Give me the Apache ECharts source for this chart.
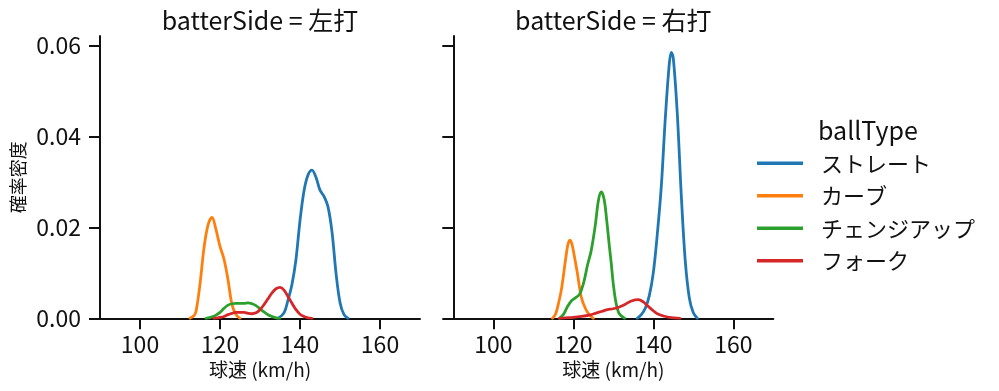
<!DOCTYPE html>
<html>
<head>
<meta charset="utf-8">
<script src="https://cdn.jsdelivr.net/npm/echarts@6/dist/echarts.min.js"></script>
<style>html,body{margin:0;padding:0;background:#fff;}#c{width:999px;height:391px;}</style>
</head>
<body>
<div id="c"></div>
<script>
// ---- data ----
const panels = ['batterSide = 左打', 'batterSide = 右打'];
const ballTypes = ['ストレート', 'カーブ', 'チェンジアップ', 'フォーク'];
const colors = ['#1f77b4', '#ff7f0e', '#2ca02c', '#d62728'];
const xTicks = [100, 120, 140, 160];
const yTicks = [0, 0.02, 0.04, 0.06];

// left panel (左打) KDE curves: [speed, density]
const L_straight = [[134.5,0],[136,0.0012],[137,0.0040],[138,0.0075],[139,0.0130],[140,0.0215],[141,0.0280],[142,0.0315],[143,0.0326],[144,0.0310],[145,0.0282],[146,0.0268],[147,0.0245],[148,0.0190],[149,0.0100],[150,0.0035],[151,0.0008],[152,0]];
const L_curve = [[112.5,0],[113.5,0.0006],[114,0.0015],[115,0.0075],[116,0.0155],[117,0.0205],[118,0.0222],[119,0.0195],[120,0.0158],[121,0.0130],[122,0.0085],[123,0.0030],[124,0.0008],[125,0]];
const L_change = [[116.5,0],[118,0.0003],[119,0.0007],[120,0.0013],[121,0.0022],[122,0.0029],[123,0.0032],[124,0.0033],[125,0.0033],[126,0.0033],[127,0.0034],[128,0.0032],[129,0.0028],[130,0.0021],[131,0.0014],[132,0.0008],[133,0.0004],[134,0.0001],[135,0]];
const L_fork = [[118.5,0],[120,0.0002],[121,0.0004],[122,0.0008],[123,0.0011],[124,0.0013],[125,0.0013],[126,0.0013],[127,0.0011],[128,0.0010],[129,0.0012],[130,0.0019],[131,0.0030],[132,0.0043],[133,0.0056],[134,0.0065],[135,0.0068],[136,0.0062],[137,0.0048],[138,0.0033],[139,0.0019],[140,0.0009],[141,0.0004],[142,0.0001],[143,0]];

// right panel (右打)
const R_straight = [[136,0],[137,0.0008],[138,0.0022],[139,0.0050],[140,0.0100],[141,0.0185],[142,0.0290],[143,0.0440],[144,0.0560],[144.5,0.0585],[145,0.0572],[146,0.0450],[147,0.0270],[148,0.0125],[149,0.0045],[150,0.0012],[151,0]];
const R_curve = [[114.8,0],[115.5,0.0008],[116,0.0022],[117,0.0062],[118,0.0125],[118.6,0.0160],[119.1,0.0172],[119.6,0.0165],[120.2,0.0140],[121,0.0100],[122,0.0047],[123,0.0022],[124,0.0008],[125,0]];
const R_change = [[116.5,0],[117.5,0.0008],[118.5,0.0025],[119.5,0.0038],[120.5,0.0045],[121.5,0.0052],[122.5,0.0075],[123.5,0.0115],[124.5,0.0150],[125.5,0.0205],[126.3,0.0260],[127,0.0278],[127.7,0.0262],[128.3,0.0220],[129,0.0160],[129.5,0.0120],[130,0.0075],[130.7,0.0033],[131.5,0.0010],[132.8,0]];
const R_fork = [[116.5,0],[118,0.0001],[120,0.0002],[122,0.0004],[124,0.0007],[125.5,0.0011],[127,0.0015],[128.5,0.0019],[130,0.0021],[131.5,0.0025],[133,0.0031],[134.5,0.0038],[136.3,0.0041],[137.5,0.0036],[138.5,0.0028],[139.8,0.0018],[141,0.0010],[142.5,0.0005],[144,0.0002],[146.7,0]];

const leftData = [L_straight, L_curve, L_change, L_fork];
const rightData = [R_straight, R_curve, R_change, R_fork];

// ---- chart ----
const FONT = '"Noto Sans CJK JP", "Noto Sans", sans-serif';
const TXT = '#111';
const chart = echarts.init(document.getElementById('c'), null, {renderer: 'canvas'});

const grids = [
  {left: 100, top: 36, width: 320, height: 282.3},
  {left: 453.3, top: 36, width: 320, height: 282.3}
];

function xAxis(i) {
  return {
    type: 'value', gridIndex: i, min: 90, max: 170,
    name: '球速 (km/h)', nameLocation: 'middle', nameGap: 41,
    nameTextStyle: {fontFamily: FONT, fontSize: 19, color: TXT},
    axisLine: {show: true, onZero: false, lineStyle: {color: TXT, width: 2}},
    axisTick: {show: true, length: 11, lineStyle: {color: TXT, width: 2}, customValues: xTicks},
    axisLabel: {fontFamily: FONT, fontSize: 23, color: TXT, margin: 14, customValues: xTicks},
    splitLine: {show: false}
  };
}
function yAxis(i) {
  return {
    type: 'value', gridIndex: i, min: 0, max: 0.0621,
    name: i === 0 ? '確率密度' : '', nameLocation: 'middle', nameGap: 73, nameRotate: 90,
    nameTextStyle: {fontFamily: FONT, fontSize: 18, color: TXT},
    axisLine: {show: true, onZero: false, lineStyle: {color: TXT, width: 2}},
    axisTick: {show: true, length: 11, lineStyle: {color: TXT, width: 2}, customValues: yTicks},
    axisLabel: {show: i === 0, fontFamily: FONT, fontSize: 23, color: TXT, margin: 19,
      customValues: yTicks, formatter: v => v.toFixed(2)},
    splitLine: {show: false}
  };
}

const series = [];
[leftData, rightData].forEach((set, gi) => {
  set.forEach((d, k) => {
    series.push({
      type: 'line', name: ballTypes[k], xAxisIndex: gi, yAxisIndex: gi,
      data: d, smooth: 0.35, showSymbol: false, symbol: 'none',
      lineStyle: {color: colors[k], width: 2.8, join: 'round', cap: 'round'}, itemStyle: {color: colors[k]},
      emphasis: {disabled: true}, silent: true, z: 2
    });
  });
});

chart.setOption({
  animation: false,
  backgroundColor: '#fff',
  grid: grids,
  xAxis: [xAxis(0), xAxis(1)],
  yAxis: [yAxis(0), yAxis(1)],
  legend: {
    orient: 'vertical', left: 757, top: 147, padding: 0, itemGap: 0,
    itemWidth: 46, itemHeight: 3.5, icon: 'rect',
    data: ballTypes.map((n, k) => ({name: n, itemStyle: {color: colors[k]}})),
    textStyle: {fontFamily: FONT, fontSize: 22, color: TXT, lineHeight: 32.5, padding: [0, 0, 0, 13]},
    selectedMode: false
  },
  graphic: [
    {type: 'text', x: 260, y: 20, style: {text: panels[0], font: '25px ' + FONT, fill: TXT, textAlign: 'center', textVerticalAlign: 'middle'}},
    {type: 'text', x: 613.3, y: 20, style: {text: panels[1], font: '25px ' + FONT, fill: TXT, textAlign: 'center', textVerticalAlign: 'middle'}},
    {type: 'text', x: 818, y: 130, style: {text: 'ballType', font: '25px ' + FONT, fill: TXT, textAlign: 'left', textVerticalAlign: 'middle'}}
  ],
  series: series
});
</script>
</body>
</html>
